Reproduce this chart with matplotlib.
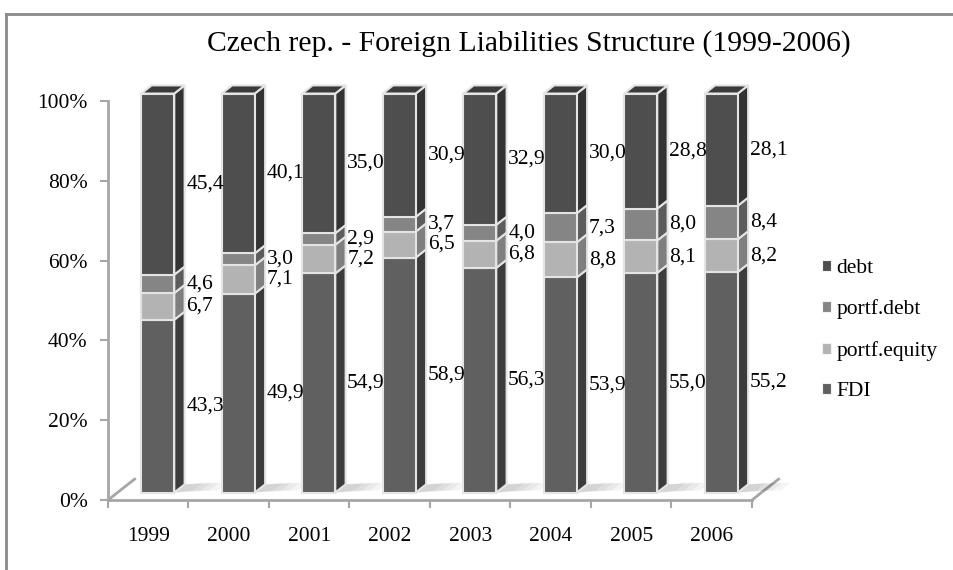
import matplotlib
matplotlib.use('Agg')
import matplotlib.pyplot as plt
from matplotlib.patches import Polygon, Patch
from matplotlib.lines import Line2D

years = ['1999', '2000', '2001', '2002', '2003', '2004', '2005', '2006']
fdi = [43.3, 49.9, 54.9, 58.9, 56.3, 53.9, 55.0, 55.2]
portf_equity = [6.7, 7.1, 7.2, 6.5, 6.8, 8.8, 8.1, 8.2]
portf_debt = [4.6, 3.0, 2.9, 3.7, 4.0, 7.3, 8.0, 8.4]
debt = [45.4, 40.1, 35.0, 30.9, 32.9, 30.0, 28.8, 28.1]
series_names = ['FDI', 'portf.equity', 'portf.debt', 'debt']
series = [fdi, portf_equity, portf_debt, debt]
y_ticks = [0, 20, 40, 60, 80, 100]
title = 'Czech rep. - Foreign Liabilities Structure (1999-2006)'

front_colors = ['#606060', '#b3b3b3', '#858585', '#4e4e4e']
side_colors = ['#3c3c3c', '#7f7f7f', '#5c5c5c', '#333333']
top_color = '#3b3b3b'
edge_color = '#e4e4e4'
axis_color = '#a6a6a6'

plt.rcParams['font.family'] = ['Liberation Serif', 'DejaVu Serif']
FS = 15.5

W, H, DPI = 954, 570, 100
fig = plt.figure(figsize=(W / DPI, H / DPI), dpi=DPI)
ax_l, ax_r, ax_t, ax_b = 108, 752, 101, 500
ax = fig.add_axes([ax_l / W, 1 - ax_b / H, (ax_r - ax_l) / W, (ax_b - ax_t) / H])
n = len(years)
ax.set_xlim(-0.5, n - 0.5)
ax.set_ylim(0, 100)
ppx = (ax_r - ax_l) / n
ppy = (ax_b - ax_t) / 100.0
DX, DY = 28 / ppx, 22 / ppy


def P(x, y, z):
    return (x + z * DX, y + z * DY)


z0, z1 = 0.34, 0.71
bw = 33 / ppx

# floor
for xe in (-0.5, n - 0.5):
    ax.add_line(Line2D([xe, xe + DX * 0.95], [0, DY * 0.95], color=axis_color, lw=2,
                       clip_on=False, zorder=1))

for i in range(n):
    total = sum(s[i] for s in series)
    xl, xr = i - bw / 2, i + bw / 2
    # soft shadow on the floor
    for k in range(4):
        ext = 0.5 - 0.1 * k
        pts = [P(xr, 0, z0), P(xr + ext, 0, z0 + 0.1), P(xr + ext, 0, z1 + 0.08), P(xr, 0, z1)]
        ax.add_patch(Polygon(pts, closed=True, facecolor='black', edgecolor='none',
                             alpha=0.045, clip_on=False, zorder=1.5))
    bottom = 0.0
    for si, s in enumerate(series):
        h = s[i] / total * 100
        yb, yt = bottom, bottom + h
        side = [P(xr, yb, z0), P(xr, yb, z1), P(xr, yt, z1), P(xr, yt, z0)]
        ax.add_patch(Polygon(side, closed=True, facecolor=side_colors[si], edgecolor=edge_color,
                             lw=1.5, clip_on=False, zorder=2 + i * 0.01))
        front = [P(xl, yb, z0), P(xr, yb, z0), P(xr, yt, z0), P(xl, yt, z0)]
        ax.add_patch(Polygon(front, closed=True, facecolor=front_colors[si], edgecolor=edge_color,
                             lw=1.5, clip_on=False, zorder=2.005 + i * 0.01))
        lx, ly = P(xr, (yb + yt) / 2, z1)
        ax.text(lx + 1.5 / ppx, (yb + yt) / 2 + z0 * DY, f'{s[i]:.1f}'.replace('.', ','),
                ha='left', va='center', fontsize=FS, color='black', zorder=5)
        bottom = yt
    top = [P(xl, 100, z0), P(xr, 100, z0), P(xr, 100, z1), P(xl, 100, z1)]
    ax.add_patch(Polygon(top, closed=True, facecolor=top_color, edgecolor=edge_color,
                         lw=1.5, clip_on=False, zorder=2.008 + i * 0.01))

# axes styling
for sp in ('top', 'right'):
    ax.spines[sp].set_visible(False)
for sp in ('left', 'bottom'):
    ax.spines[sp].set_color(axis_color)
    ax.spines[sp].set_linewidth(2)
ax.set_yticks(y_ticks)
ax.set_yticklabels([f'{v}%' for v in y_ticks], fontsize=FS)
ax.tick_params(axis='y', length=6, width=1.5, color=axis_color, pad=12 * 0.72)
ax.set_xticks(range(n))
ax.set_xticklabels(years, fontsize=FS)
ax.set_xticks([i - 0.5 for i in range(n + 1)], minor=True)
ax.tick_params(axis='x', which='major', length=0, pad=27 * 0.72)
ax.tick_params(axis='x', which='minor', length=6, width=1.5, color=axis_color)
ax.set_facecolor('none')

# legend
handles = [Patch(facecolor=front_colors[k], edgecolor='#f4f4f4', lw=0.8) for k in (3, 2, 1, 0)]
labels = [series_names[k] for k in (3, 2, 1, 0)]
fig.legend(handles, labels, loc='upper left', bbox_to_anchor=(822 / W, 1 - 259 / H),
           frameon=False, fontsize=FS, borderpad=0, handlelength=0.42, handleheight=0.42,
           handletextpad=0.25, labelspacing=1.0, borderaxespad=0)

fig.text(529 / W, 1 - 44 / H, title, ha='center', va='center', fontsize=21.3)

# border
fig.add_artist(Line2D([6.5 / W, 1.0], [1 - 13.5 / H, 1 - 13.5 / H], transform=fig.transFigure,
                      color='#8a8a8a', lw=2))
fig.add_artist(Line2D([6.5 / W, 6.5 / W], [1 - 13.5 / H, 0], transform=fig.transFigure,
                      color='#8a8a8a', lw=2))

fig.savefig('out.png', dpi=DPI)
